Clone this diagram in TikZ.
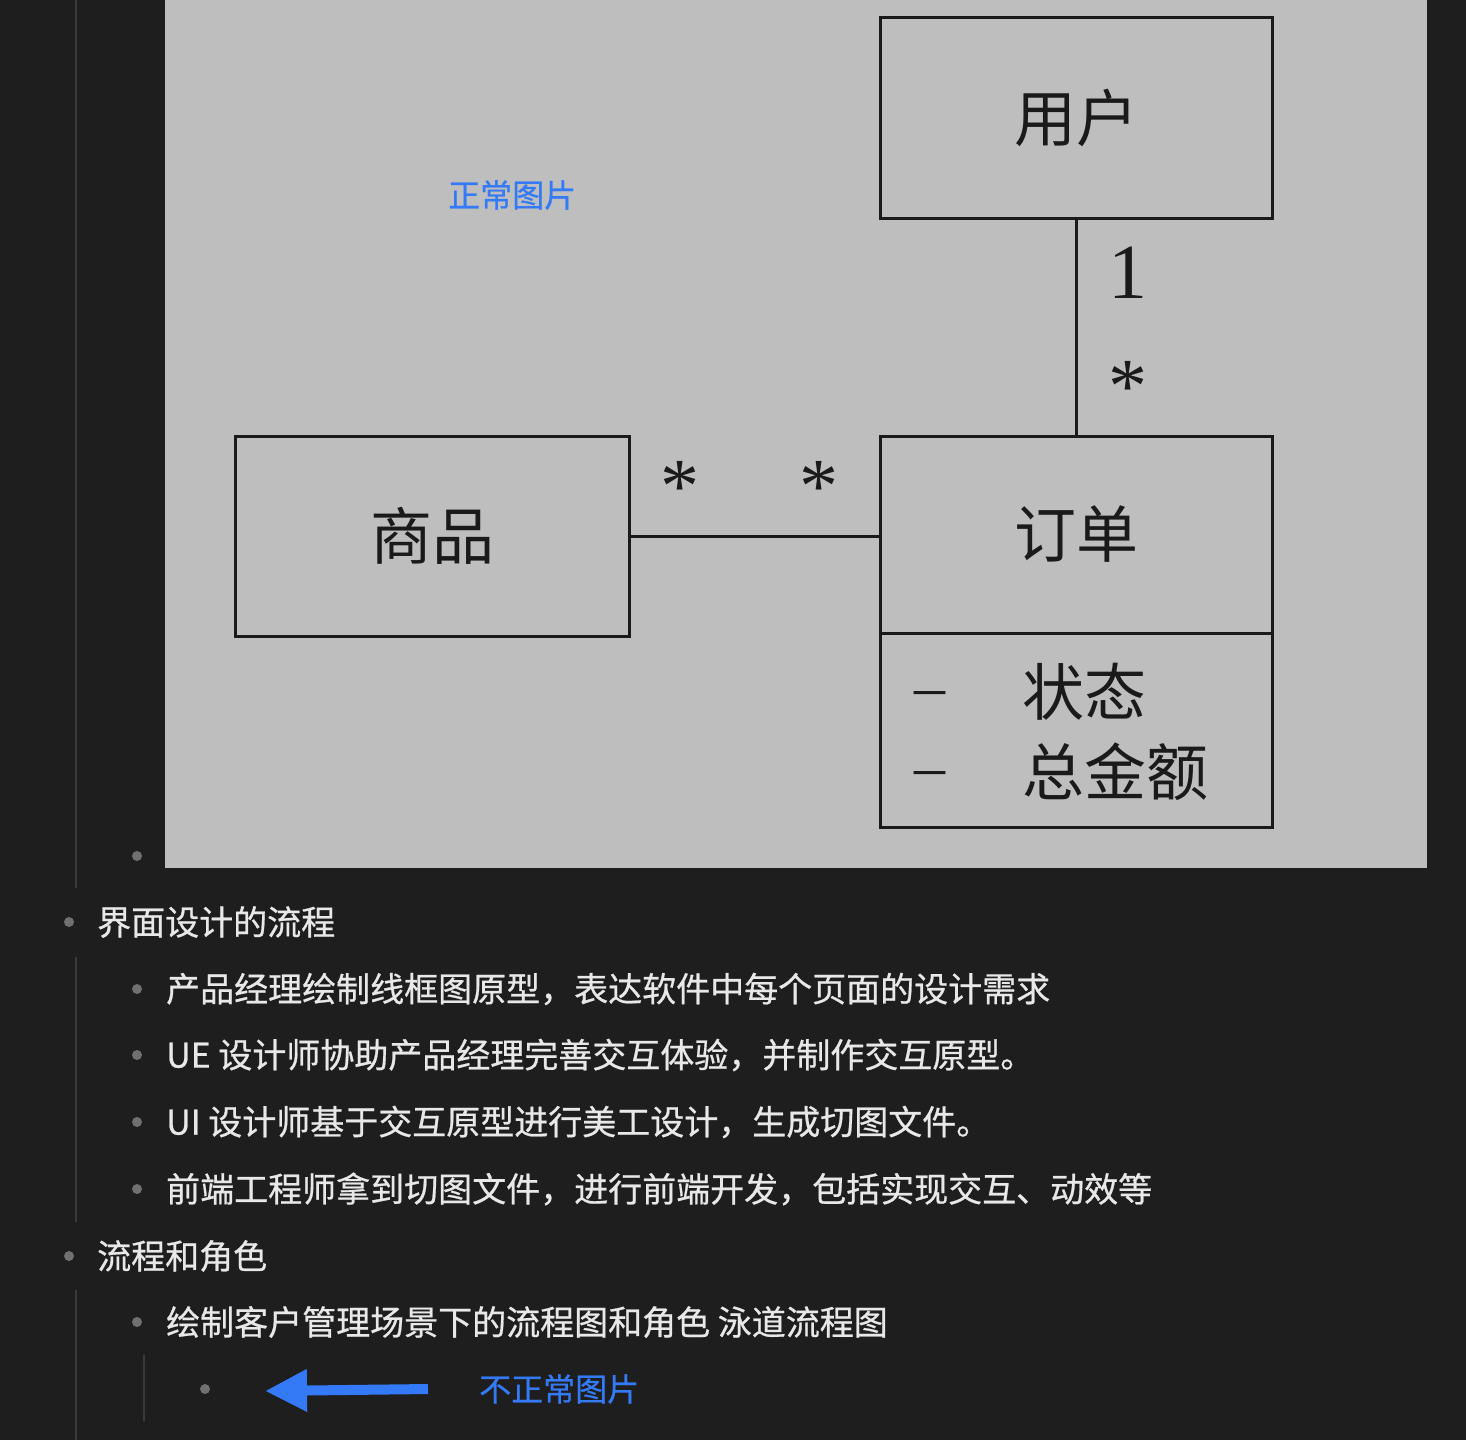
\documentclass[tikz,border=0pt]{standalone}
\usepackage{fontspec}
\usepackage{xcolor}
\usetikzlibrary{arrows.meta,positioning}
\newfontfamily\cjk{Noto Sans CJK SC}
\newfontfamily\cjkui[BoldFont=Noto Sans CJK SC, BoldFeatures={FakeBold=0.7}]{Noto Sans CJK SC}
\newfontfamily\umlnum{Liberation Serif}
\definecolor{pageDark}{RGB}{30,30,30}
\definecolor{guideGray}{RGB}{58,58,58}
\definecolor{bulletGray}{RGB}{112,112,112}
\definecolor{uiText}{RGB}{232,232,232}
\definecolor{linkBlue}{RGB}{52,122,246}
\definecolor{imgGray}{RGB}{190,190,190}
\definecolor{umlInk}{RGB}{26,26,26}
\tikzset{
  uitext/.style={anchor=west, inner sep=0pt, text=uiText, font=\cjkui\bfseries\fontsize{34}{40}\selectfont},
  bluetext/.style={anchor=west, inner sep=0pt, text=linkBlue, font=\cjkui\bfseries\fontsize{32}{38}\selectfont},
  umlbox/.style={draw=umlInk, line width=3pt, inner sep=0pt, outer sep=0pt, text=umlInk, font=\cjk\fontsize{62}{70}\selectfont},
  umlline/.style={draw=umlInk, line width=3pt},
  mult/.style={anchor=base, inner sep=0pt, text=umlInk, font=\umlnum\fontsize{78}{80}\selectfont},
  attr/.style={anchor=west, inner sep=0pt, text=umlInk, font=\cjk\fontsize{62}{70}\selectfont},
  guide/.style={draw=guideGray, line width=2pt},
  badarrow/.style={draw=linkBlue, line width=10pt, -{Triangle[length=42pt, width=40pt]}}
}

\begin{document}
\begin{tikzpicture}[x=1pt, y=-1pt]
  % page and pasted picture
  \fill[pageDark] (0,0) rectangle (1466,1440);
  \useasboundingbox (0,0) rectangle (1466,1440);
  \fill[imgGray] (165,0) rectangle (1427,868);

  % outline guides
  \draw[guide] (76,0) -- (76,888);
  \draw[guide] (76,957) -- (76,1222);
  \draw[guide] (76,1290) -- (76,1440);
  \draw[guide] (144,1355) -- (144,1421);

  % bullets
  \foreach \bx/\by in {137/856, 69/922, 137/989, 137/1055, 137/1122, 137/1189, 69/1256, 137/1322, 205/1389}
    \fill[bulletGray] (\bx,\by) circle (5);

  % UML picture
  \node[bluetext] (goodlabel) at (448,195) {正常图片};
  \node[umlbox, minimum width=392pt, minimum height=201pt] (user) at (1076,117.5) {用户};
  \node[umlbox, minimum width=394pt, minimum height=200pt] (goods) at (432,536) {商品};
  \node[umlbox, minimum width=392pt, minimum height=197pt] (order) at (1076,534.5) {订单};
  \node[umlbox, minimum width=392pt, minimum height=194pt, below=0pt of order] (attrs) {};
  \node[attr] (dashA) at (914,699) {\umlnum –};
  \node[attr] (state) at (1022,692) {状态};
  \node[attr] (dashB) at (914,779) {\umlnum –};
  \node[attr] (total) at (1022,772) {总金额};

  \draw[umlline] (user.south) -- (order.north);
  \draw[umlline] (goods.east) -- (goods.east -| order.west);
  \node[mult] (userOne) at (1128,298) {1};
  \node[mult] (orderMany) at (1128,412) {*};
  \node[mult] (goodsMany) at (680,512) {*};
  \node[mult] (orderManyB) at (819,512) {*};

  % outline text
  \node[uitext] (flow) at (97,922) {界面设计的流程};
  \node[uitext] (stepA) at (166,989) {产品经理绘制线框图原型，表达软件中每个页面的设计需求};
  \node[uitext] (stepB) at (166,1055) {UE 设计师协助产品经理完善交互体验，并制作交互原型。};
  \node[uitext] (stepC) at (166,1122) {UI 设计师基于交互原型进行美工设计，生成切图文件。};
  \node[uitext] (stepD) at (166,1189) {前端工程师拿到切图文件，进行前端开发，包括实现交互、动效等};
  \node[uitext] (roles) at (97,1256) {流程和角色};
  \node[uitext] (swim) at (166,1322) {绘制客户管理场景下的流程图和角色 泳道流程图};

  \coordinate (brokenimg) at (265,1391);
  \node[bluetext] (badlabel) at (479,1389) {不正常图片};
  \draw[badarrow] ([xshift=-51pt]badlabel.west) -- (brokenimg);
\end{tikzpicture}
\end{document}
